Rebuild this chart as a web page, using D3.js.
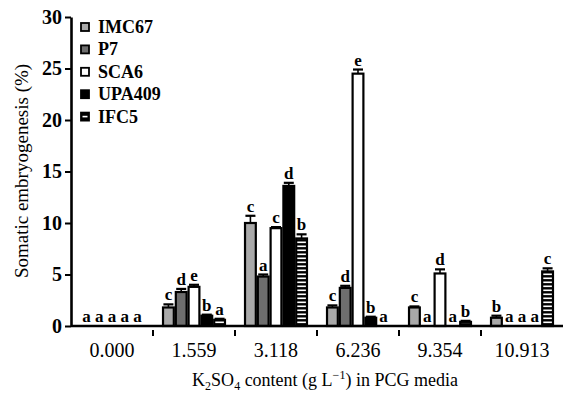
<!DOCTYPE html>
<html>
<head>
<meta charset="utf-8">
<script src="https://cdn.jsdelivr.net/npm/d3@7"></script>
<style>
  html, body { margin: 0; padding: 0; background: #fff; font-family: "Liberation Serif", serif; }
  svg { display: block; font-family: "Liberation Serif", serif; }
</style>
</head>
<body>
<svg id="chart" width="563" height="393" font-family="Liberation Serif"></svg>
<script>
// K2SO4 concentrations (g/L) used as groups
const concentrations = ["0.000", "1.559", "3.118", "6.236", "9.354", "10.913"];
const genotypes = ["IMC67", "P7", "SCA6", "UPA409", "IFC5"];

// Mean somatic embryogenesis (%) per genotype, one value per concentration
const imc67 = [0, 1.8, 10.0, 1.8, 1.8, 0.8];
const p7 = [0, 3.3, 4.8, 3.7, 0, 0];
const sca6 = [0, 3.8, 9.5, 24.5, 5.1, 0];
const upa409 = [0, 1.0, 13.6, 0.8, 0, 0];
const ifc5 = [0, 0.6, 8.5, 0, 0.4, 5.3];

// Standard errors
const imc67Err = [0, 0.3, 0.7, 0.2, 0.1, 0.2];
const p7Err = [0, 0.3, 0.2, 0.2, 0, 0];
const sca6Err = [0, 0.2, 0.1, 0.4, 0.4, 0];
const upa409Err = [0, 0.1, 0.3, 0.1, 0, 0];
const ifc5Err = [0, 0.1, 0.4, 0, 0.1, 0.3];

// Significance letters
const imc67Sig = ["a", "c", "c", "c", "c", "b"];
const p7Sig = ["a", "d", "a", "d", "a", "a"];
const sca6Sig = ["a", "e", "c", "e", "d", "a"];
const upa409Sig = ["a", "b", "d", "b", "a", "a"];
const ifc5Sig = ["a", "a", "b", "a", "b", "c"];

const yTicks = [0, 5, 10, 15, 20, 25, 30];

const values = [imc67, p7, sca6, upa409, ifc5];
const errors = [imc67Err, p7Err, sca6Err, upa409Err, ifc5Err];
const letters = [imc67Sig, p7Sig, sca6Sig, upa409Sig, ifc5Sig];

const FONT = "Liberation Serif";

const svg = d3.select("#chart");
const defs = svg.append("defs");

// Black fill with white horizontal stripes for IFC5
const pat = defs.append("pattern")
  .attr("id", "stripes")
  .attr("patternUnits", "userSpaceOnUse")
  .attr("width", 4).attr("height", 4);
pat.append("rect").attr("width", 4).attr("height", 4).attr("fill", "#000");
pat.append("rect").attr("x", 0).attr("y", 1.5).attr("width", 4).attr("height", 1.6).attr("fill", "#fff");

const fills = {
  IMC67: "#a9a9a9",
  P7: "#6e6e6e",
  SCA6: "#ffffff",
  UPA409: "#000000",
  IFC5: "url(#stripes)"
};

const plotLeft = 71, plotRight = 563, plotTop = 17, plotBottom = 326;

const x0 = d3.scaleBand().domain(concentrations).range([plotLeft, plotRight]).padding(0);
const inset = x0.bandwidth() * 0.11;
const x1 = d3.scaleBand().domain(genotypes).range([inset, x0.bandwidth() - inset]).padding(0);
const y = d3.scaleLinear().domain([0, 30]).range([plotBottom, plotTop]);

// Flatten into per-bar records
const bars = [];
concentrations.forEach((c, ci) => {
  genotypes.forEach((g, gi) => {
    bars.push({ c, g, v: values[gi][ci], e: errors[gi][ci], s: letters[gi][ci] });
  });
});

const groups = svg.append("g");
const bw = x1.bandwidth();

// Bars
groups.selectAll("rect.bar")
  .data(bars.filter(d => d.v > 0))
  .join("rect")
  .attr("class", "bar")
  .attr("x", d => x0(d.c) + x1(d.g) + 1)
  .attr("y", d => y(d.v))
  .attr("width", bw - 2)
  .attr("height", d => y(0) - y(d.v))
  .attr("fill", d => fills[d.g])
  .attr("stroke", "#000")
  .attr("stroke-width", 2.2);

// Error bars (upper whisker with cap)
const eb = groups.selectAll("g.err")
  .data(bars.filter(d => d.e > 0))
  .join("g")
  .attr("class", "err");
eb.append("line")
  .attr("x1", d => x0(d.c) + x1(d.g) + bw / 2)
  .attr("x2", d => x0(d.c) + x1(d.g) + bw / 2)
  .attr("y1", d => y(d.v))
  .attr("y2", d => y(d.v + d.e))
  .attr("stroke", "#000").attr("stroke-width", 1.6);
eb.append("line")
  .attr("x1", d => x0(d.c) + x1(d.g) + bw / 2 - 5)
  .attr("x2", d => x0(d.c) + x1(d.g) + bw / 2 + 5)
  .attr("y1", d => y(d.v + d.e))
  .attr("y2", d => y(d.v + d.e))
  .attr("stroke", "#000").attr("stroke-width", 2.2);

// Significance letters
groups.selectAll("text.sig")
  .data(bars)
  .join("text")
  .attr("class", "sig")
  .attr("x", d => x0(d.c) + x1(d.g) + bw / 2)
  .attr("y", d => y(d.v + d.e) - 4)
  .attr("text-anchor", "middle")
  .attr("font-family", FONT)
  .attr("font-size", 17)
  .attr("font-weight", "bold")
  .text(d => d.s);

// Y axis
const yAxis = svg.append("g")
  .attr("transform", `translate(${plotLeft},0)`)
  .call(d3.axisLeft(y).tickValues(yTicks).tickSize(6).tickPadding(3).tickSizeOuter(0));
yAxis.attr("font-family", FONT).attr("font-size", 20).attr("font-weight", "bold");
yAxis.select(".domain").attr("stroke-width", 2.6);
yAxis.selectAll(".tick line").attr("stroke-width", 2);
yAxis.selectAll(".tick text").attr("font-family", FONT);

// X axis: baseline with separators between groups, labels at group centres
const xAxis = svg.append("g")
  .attr("transform", `translate(0,${plotBottom})`);
xAxis.append("line")
  .attr("x1", plotLeft).attr("x2", plotRight)
  .attr("stroke", "#000").attr("stroke-width", 2.6);
xAxis.selectAll("line.sep")
  .data(concentrations.slice(1))
  .join("line")
  .attr("class", "sep")
  .attr("x1", d => x0(d)).attr("x2", d => x0(d))
  .attr("y1", 4).attr("y2", 10)
  .attr("stroke", "#000").attr("stroke-width", 2);
xAxis.selectAll("text.cat")
  .data(concentrations)
  .join("text")
  .attr("class", "cat")
  .attr("x", d => x0(d) + x0.bandwidth() / 2)
  .attr("y", 31)
  .attr("text-anchor", "middle")
  .attr("font-family", FONT)
  .attr("font-size", 20)
  .text(d => d);

// Axis titles
const xt = svg.append("text")
  .attr("x", 325).attr("y", 386)
  .attr("text-anchor", "middle")
  .attr("font-family", FONT)
  .attr("font-size", 18);
xt.append("tspan").text("K");
xt.append("tspan").attr("font-size", 12).attr("dy", 4).text("2");
xt.append("tspan").attr("dy", -4).text("SO");
xt.append("tspan").attr("font-size", 12).attr("dy", 4).text("4");
xt.append("tspan").attr("dy", -4).text(" content (g L");
xt.append("tspan").attr("font-size", 12).attr("dy", -7).text("\u22121");
xt.append("tspan").attr("dy", 7).text(") in PCG media");

svg.append("text")
  .attr("transform", "translate(28,171) rotate(-90)")
  .attr("text-anchor", "middle")
  .attr("font-family", FONT)
  .attr("font-size", 19)
  .text("Somatic embryogenesis (%)");

// Legend
const legend = svg.append("g").attr("transform", "translate(80,27)");
const rows = legend.selectAll("g")
  .data(genotypes)
  .join("g")
  .attr("transform", (d, i) => `translate(0,${i * 22.4})`);
rows.append("rect")
  .attr("x", 1).attr("y", -4)
  .attr("width", 8).attr("height", 8)
  .attr("fill", d => d === "IFC5" ? "#000" : fills[d])
  .attr("stroke", "#000").attr("stroke-width", 1.8);
rows.filter(d => d === "IFC5").append("rect")
  .attr("x", 2.5).attr("y", -0.8).attr("width", 5).attr("height", 1.6)
  .attr("fill", "#fff");
rows.append("text")
  .attr("x", 18).attr("y", 6)
  .attr("font-family", FONT)
  .attr("font-size", 18)
  .attr("font-weight", "bold")
  .text(d => d);
</script>
</body>
</html>
